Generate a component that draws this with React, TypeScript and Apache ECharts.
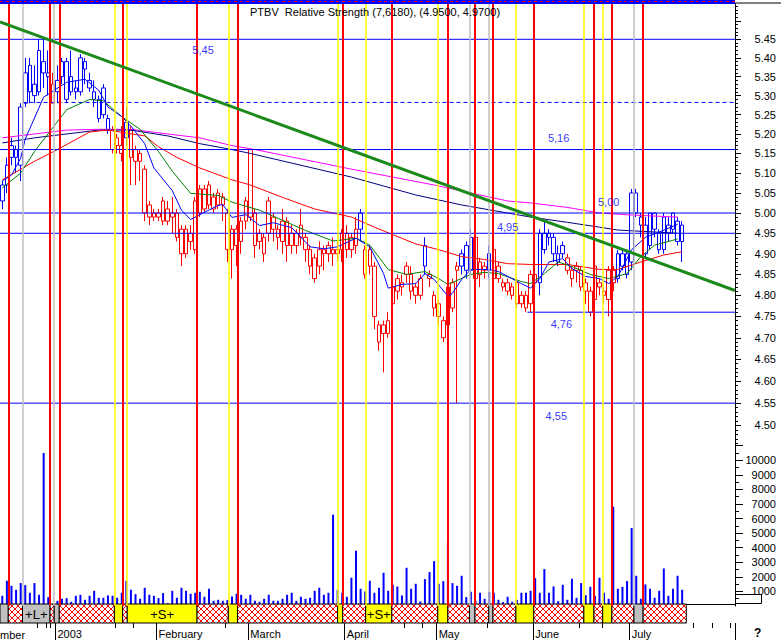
import React, { useEffect, useRef } from "react";
import * as echarts from "echarts";

// ---------- DATA ----------
const N_SLOTS = 160;
const categories: string[] = Array.from({ length: N_SLOTS }, (_, i) => `t${i}`);

const openP = [
  5.03, 5.07, 5.17, 5.16, 5.12, 5.28, 5.38, 5.33, 5.31, 5.36,
  5.36, 5.33, 5.31, 5.35, 5.39, 5.31, 5.32, 5.31, 5.37, 5.34,
  5.29, 5.29, 5.32, 5.24, 5.21, 5.17, 5.17, 5.19, 5.21, 5.13,
  5.15, 5.11, 5.02, 4.99, 5.0, 4.98, 4.98, 4.99, 5.0, 4.96,
  4.9, 4.93, 4.91, 5.0, 5.06, 5.02, 5.04, 5.02, 5.04, 5.0,
  4.96, 4.92, 4.93, 4.98, 5.16, 5.0, 4.93, 4.9, 4.95, 4.99,
  4.96, 4.93, 4.98, 4.95, 4.92, 4.97, 4.94, 4.91, 4.89, 4.87,
  4.91, 4.92, 4.91, 4.9, 4.91, 4.95, 4.94, 4.92, 4.96, 4.91,
  4.91, 4.87, 4.73, 4.73, 4.71, 4.78, 4.81, 4.82, 4.87, 4.85,
  4.82, 4.8, 4.87, 4.85, 4.8, 4.78, 4.74, 4.73, 4.83, 4.87,
  4.87, 4.86, 4.86, 4.94, 4.85, 4.87, 4.86, 4.91, 4.87, 4.83,
  4.83, 4.82, 4.83, 4.8, 4.8, 4.85, 4.85, 4.83, 4.91, 4.95,
  4.94, 4.9, 4.9, 4.89, 4.84, 4.87, 4.86, 4.83, 4.81, 4.79,
  4.83, 4.81, 4.79, 4.83, 4.84, 4.87, 4.9, 4.88, 5.05, 4.97,
  4.97, 4.92, 4.96, 4.95, 4.91, 4.95, 4.96, 4.98, 4.93,
];
const closeP = [
  5.07, 5.12, 5.14, 5.14, 5.27, 5.36, 5.31, 5.3, 5.42, 5.39,
  5.35, 5.28, 5.34, 5.39, 5.29, 5.35, 5.31, 5.4, 5.39, 5.32,
  5.31, 5.24, 5.25, 5.21, 5.16, 5.19, 5.15, 5.23, 5.14, 5.16,
  5.13, 5.0, 4.99, 5.0, 4.99, 5.03, 5.01, 5.0, 4.94, 4.9,
  4.96, 4.95, 5.03, 5.06, 5.01, 5.07, 5.01, 5.05, 5.02, 4.91,
  4.91, 4.96, 4.98, 5.03, 4.99, 4.92, 4.95, 4.94, 5.03, 4.96,
  4.94, 4.98, 4.92, 4.92, 4.95, 4.94, 4.91, 4.87, 4.84, 4.91,
  4.9, 4.9, 4.9, 4.91, 4.95, 4.91, 4.91, 4.96, 5.0, 4.85,
  4.87, 4.75, 4.69, 4.71, 4.74, 4.82, 4.84, 4.83, 4.85, 4.81,
  4.8, 4.84, 4.92, 4.84, 4.77, 4.75, 4.7, 4.82, 4.77, 4.86,
  4.9, 4.92, 4.94, 4.84, 4.88, 4.86, 4.9, 4.84, 4.84, 4.82,
  4.81, 4.8, 4.78, 4.78, 4.77, 4.78, 4.83, 4.95, 4.95, 4.94,
  4.9, 4.88, 4.92, 4.86, 4.86, 4.86, 4.82, 4.81, 4.76, 4.87,
  4.82, 4.8, 4.86, 4.86, 4.9, 4.9, 4.85, 5.05, 5.0, 4.99,
  4.9, 5.0, 5.0, 4.91, 4.99, 4.97, 5.0, 4.93, 4.97,
];
const lowP = [
  5.01, 5.05, 5.12, 5.1, 5.08, 5.27, 5.28, 5.28, 5.3, 5.32,
  5.3, 5.28, 5.28, 5.33, 5.28, 5.3, 5.29, 5.3, 5.33, 5.31,
  5.27, 5.23, 5.24, 5.2, 5.15, 5.15, 5.13, 5.17, 5.07, 5.07,
  5.08, 4.98, 4.97, 4.98, 4.98, 4.97, 4.97, 4.95, 4.93, 4.87,
  4.89, 4.91, 4.9, 4.99, 5.0, 5.01, 5.0, 5.01, 4.98, 4.88,
  4.84, 4.87, 4.9, 4.96, 4.98, 4.89, 4.91, 4.88, 4.93, 4.93,
  4.91, 4.9, 4.88, 4.9, 4.9, 4.92, 4.88, 4.85, 4.83, 4.85,
  4.86, 4.88, 4.87, 4.88, 4.88, 4.89, 4.89, 4.9, 4.93, 4.84,
  4.85, 4.72, 4.67, 4.62, 4.7, 4.74, 4.79, 4.8, 4.83, 4.79,
  4.78, 4.79, 4.85, 4.82, 4.75, 4.73, 4.69, 4.71, 4.76, 4.55,
  4.85, 4.84, 4.85, 4.81, 4.82, 4.84, 4.84, 4.82, 4.83, 4.81,
  4.8, 4.79, 4.77, 4.77, 4.76, 4.76, 4.82, 4.8, 4.9, 4.92,
  4.88, 4.87, 4.89, 4.85, 4.82, 4.83, 4.81, 4.78, 4.75, 4.77,
  4.8, 4.78, 4.75, 4.81, 4.83, 4.86, 4.84, 4.86, 4.99, 4.94,
  4.89, 4.91, 4.94, 4.9, 4.9, 4.93, 4.95, 4.92, 4.88,
];
const highP = [
  5.08, 5.14, 5.19, 5.17, 5.28, 5.4, 5.4, 5.38, 5.45, 5.45,
  5.42, 5.36, 5.38, 5.4, 5.4, 5.42, 5.34, 5.41, 5.4, 5.36,
  5.34, 5.3, 5.33, 5.25, 5.22, 5.2, 5.22, 5.27, 5.22, 5.17,
  5.16, 5.12, 5.03, 5.01, 5.01, 5.04, 5.03, 5.04, 5.01, 4.97,
  4.97, 4.97, 5.04, 5.07, 5.07, 5.08, 5.05, 5.06, 5.05, 5.01,
  4.97, 4.97, 4.99, 5.04, 5.16, 5.01, 4.96, 4.95, 5.04, 5.0,
  4.97, 5.01, 4.99, 4.97, 4.96, 5.01, 4.95, 4.92, 4.9, 4.93,
  4.92, 4.93, 4.94, 4.93, 4.96, 4.97, 4.95, 4.99, 5.01, 4.92,
  4.92, 4.88, 4.74, 4.74, 4.76, 4.83, 4.85, 4.85, 4.88, 4.87,
  4.83, 4.85, 4.94, 4.86, 4.81, 4.79, 4.75, 4.83, 4.84, 4.88,
  4.91, 4.93, 4.96, 4.95, 4.89, 4.88, 4.92, 4.92, 4.88, 4.84,
  4.84, 4.83, 4.84, 4.81, 4.81, 4.86, 4.86, 4.96, 4.98, 4.96,
  4.95, 4.92, 4.93, 4.9, 4.87, 4.88, 4.87, 4.84, 4.82, 4.88,
  4.84, 4.82, 4.87, 4.87, 4.91, 4.91, 4.91, 5.06, 5.06, 5.0,
  4.99, 5.0, 5.0, 4.96, 5.0, 4.99, 5.0, 4.99, 4.98,
];
// trend colouring of candles (B = blue phase, R = red phase), run-length
const trendRuns: [string, number][] = [
  ["B", 11], ["R", 1], ["B", 12], ["R", 3], ["B", 1], ["R", 50], ["B", 1], ["R", 13],
  ["B", 1], ["R", 7], ["B", 3], ["R", 3], ["B", 1], ["R", 10], ["B", 6], ["R", 11], ["B", 15],
];
const volumes = [
  701, 1731, 1388, 1113, 1571, 1434, 907, 1571, 769, 10504,
  609, 150, 357, 495, 540, 289, 701, 769, 426, 701,
  1044, 563, 563, 724, 701, 563, 907, 1731, 1113, 815,
  495, 1250, 769, 701, 540, 884, 197, 1044, 563, 1250,
  1044, 838, 907, 976, 632, 1182, 357, 426, 357, 403,
  655, 838, 769, 495, 769, 357, 289, 495, 769, 357,
  357, 495, 769, 907, 357, 632, 495, 563, 1044, 1250,
  769, 907, 6265, 1113, 907, 632, 1937, 3792, 1182, 998,
  1731, 907, 1250, 2281, 1044, 1456,
  1342, 724, 2624, 1182, 1525, 311, 1846, 2327, 3082, 1525,
  1708, 4365, 1571, 1388, 2075, 609, 976, 357, 907, 495,
  976, 907, 426, 266, 632, 289, 426, 907, 907, 1044,
  1915, 907, 2533, 907, 1342, 335, 1456, 426, 1869, 563,
  1571, 747, 1319, 701, 1937, 907, 495, 6815, 1182, 1319,
  1708, 5350, 2075, 495, 1479, 1182, 563, 1044, 2578, 701,
  1182, 2075, 1113,
];

// moving averages: [slot, price]
const maFast: [number, number][] = [
  [0, 5.08], [2, 5.095], [4, 5.138], [5, 5.187], [9, 5.296], [14, 5.335], [18, 5.343], [21, 5.314],
  [23, 5.27], [26, 5.245], [28, 5.22], [31, 5.175], [33, 5.113], [37, 5.056], [39, 5.007], [41, 4.984],
  [43, 4.996], [47, 5.019], [48, 5.021], [50, 4.989], [53, 4.996], [56, 4.969], [59, 4.976], [63, 4.964],
  [67, 4.917], [70, 4.912], [73, 4.917], [77, 4.938], [80, 4.917], [83, 4.852], [84, 4.817], [87, 4.826],
  [90, 4.828], [92, 4.852], [94, 4.838], [97, 4.798], [98, 4.805], [100, 4.838], [102, 4.862], [106, 4.862],
  [108, 4.857], [113, 4.828], [115, 4.817], [117, 4.84], [119, 4.88], [122, 4.888], [124, 4.864], [127, 4.845],
  [130, 4.84], [132, 4.828], [134, 4.845], [137, 4.91], [140, 4.94], [143, 4.953], [147, 4.972],
];
const maGreen: [number, number][] = [
  [0, 5.063], [4, 5.1], [7, 5.155], [14, 5.263], [19, 5.29], [22, 5.286], [26, 5.245], [30, 5.212],
  [34, 5.155], [37, 5.105], [41, 5.049], [47, 5.044], [50, 5.027], [56, 5.007], [61, 4.982], [66, 4.957],
  [72, 4.931], [77, 4.938], [80, 4.921], [84, 4.862], [88, 4.85], [92, 4.857], [95, 4.84], [97, 4.826],
  [102, 4.85], [105, 4.855], [108, 4.852], [113, 4.833], [115, 4.828], [118, 4.852], [121, 4.88], [124, 4.869],
  [128, 4.85], [132, 4.84], [136, 4.852], [139, 4.893], [142, 4.921], [147, 4.936],
];
const maRed: [number, number][] = [
  [0, 5.083], [7, 5.13], [12, 5.16], [19, 5.205], [23, 5.21], [31, 5.195], [34, 5.167], [38, 5.14],
  [43, 5.113], [50, 5.083], [54, 5.07], [61, 5.039], [68, 5.01], [76, 4.99], [81, 4.965], [90, 4.924],
  [95, 4.91], [100, 4.893], [105, 4.886], [110, 4.876], [115, 4.874], [123, 4.874], [130, 4.862], [134, 4.862],
  [139, 4.88], [144, 4.897], [148, 4.905],
];
const maNavy: [number, number][] = [
  [0, 5.177], [7, 5.19], [21, 5.21], [28, 5.21], [36, 5.195], [43, 5.175], [50, 5.16], [54, 5.15],
  [76, 5.09], [90, 5.045], [100, 5.02], [110, 5.0], [115, 4.99], [123, 4.977], [130, 4.965], [134, 4.958],
  [147, 4.95],
];
const maMagenta: [number, number][] = [
  [0, 5.19], [7, 5.2], [14, 5.21], [21, 5.212], [28, 5.212], [36, 5.2], [43, 5.19], [50, 5.17],
  [55, 5.16], [76, 5.11], [94, 5.07], [100, 5.055], [110, 5.03], [115, 5.025], [123, 5.014], [130, 5.0],
  [137, 4.995], [147, 4.99],
];

// signal lines (slot positions)
const redSignals = [1.3, 10.4, 12.4, 26.2, 42.4, 51.2, 74.1, 84.8, 97.0, 102.9, 106.8, 115.7, 128.8, 132.7, 139.5];
const yellowSignals = [24.4, 27.2, 49.2, 73.0, 79.1, 94.8, 111.8, 126.6, 130.7];
const graySignals = [4.4, 11.3, 101.7, 105.9, 137.5];
const stripEnd = 148.9;
const stripLabels = [
  { from: 4.4, text: "+L+" },
  { from: 27.2, text: "+S+" },
  { from: 79.1, text: "+S+" },
];

// price levels (start slot, price)
const levelLines: [number, number][] = [
  [-0.5, 5.45], [-0.5, 5.16], [-0.5, 5.0], [-0.5, 4.95], [-0.5, 4.55], [114.3, 4.76],
];
const dashedLevel = { from: 4.4, price: 5.282 };
const trendLine: [number, number][] = [[-0.5, 5.497], [159.5, 4.8115]];
const levelLabels = [
  { text: "5,45", k: 43.7, price: 5.421 },
  { text: "5,16", k: 121.1, price: 5.1896 },
  { text: "5,00", k: 132.0, price: 5.0275 },
  { text: "4,95", k: 110.0, price: 4.9655 },
  { text: "4,76", k: 121.7, price: 4.7322 },
  { text: "4,55", k: 120.6, price: 4.5212 },
];

// axes
const PRICE_MIN = 4.4565;
const PRICE_MAX = 5.5463;
const priceLabels = [4.5, 4.55, 4.6, 4.65, 4.7, 4.75, 4.8, 4.85, 4.9, 4.95, 5.0, 5.05, 5.1, 5.15, 5.2, 5.25, 5.3, 5.35, 5.4, 5.45];
const priceMajorTicks = [4.45, ...priceLabels, 5.5];
const priceMinorTicks = Array.from({ length: 110 }, (_, i) => Math.round((4.45 + i * 0.01) * 100) / 100);
const volLabels = [1000, 2000, 3000, 4000, 5000, 6000, 7000, 8000, 9000, 10000];
const volMajorTicks = [...volLabels, 11000];
const volMinorTicks = Array.from({ length: 22 }, (_, i) => 500 + i * 500);
const monthStarts = [12, 34, 54, 75, 95, 116, 137];
const monthNames = ["2003", "February", "March", "April", "May", "June", "July"];
const weekTicks = [8, 10, 11, 25, 29, 49, 88, 92, 106, 126, 131, 151, 155, 159];
const titleText = "PTBV  Relative Strength (7,6180), (4.9500, 4.9700)";

// ---------- STYLE ----------
const FONT = "'Liberation Sans', Arial, sans-serif";
const BLUE = "#0000ff";
const RED = "#ff0000";
const YEL = "#ffff00";
const GRAY = "#c0c0c0";
const NAVY = "#000080";
const MAG = "#ff00ff";
const GREEN = "#008000";
const TREND = "#1b8a1b";

const hatchUrl =
  "data:image/svg+xml;utf8," +
  encodeURIComponent(
    '<svg xmlns="http://www.w3.org/2000/svg" width="6" height="6"><rect width="6" height="6" fill="#ffffff"/><path d="M0 0L6 6M6 0L0 6" stroke="#ff0000" stroke-width="1"/></svg>'
  );

function buildOption(): any {
  const trendSeq: string[] = trendRuns.flatMap(([c, n]) => Array(n).fill(c));
  const candleData = openP.map((o, i) => {
    const col = trendSeq[i] === "B" ? BLUE : RED;
    return {
      value: [o, closeP[i], lowP[i], highP[i]],
      itemStyle: { color: "#ffffff", color0: col, borderColor: col, borderColor0: col, borderWidth: 1 },
    };
  });

  const vLines = [
    ...yellowSignals.map((x) => ({ xAxis: x, lineStyle: { color: YEL, width: 1.5, type: "solid" } })),
    ...graySignals.map((x) => ({ xAxis: x, lineStyle: { color: GRAY, width: 1.5, type: "solid" } })),
    ...redSignals.map((x) => ({ xAxis: x, lineStyle: { color: RED, width: 2, type: "solid" } })),
  ];

  const marks = [
    ...redSignals.map((x) => ({ x, kind: 0 })),
    ...yellowSignals.map((x) => ({ x, kind: 1 })),
    ...graySignals.map((x) => ({ x, kind: 2 })),
  ].sort((a, b) => a.x - b.x);
  const segs: number[][] = [];
  let prev = { x: -0.5, kind: 2 };
  for (const m of marks) {
    segs.push([prev.x, m.x, prev.kind]);
    prev = m;
  }
  segs.push([prev.x, stripEnd, prev.kind]);

  const hatch = { image: hatchUrl, repeat: "repeat", imageWidth: 6, imageHeight: 6 };

  const lineSeries = (data: [number, number][], color: string, width: number, z: number, type: any = "solid") => ({
    type: "line",
    xAxisIndex: 1,
    yAxisIndex: 0,
    data,
    showSymbol: false,
    symbol: "none",
    itemStyle: { color },
    lineStyle: { color, width, type },
    z,
    silent: true,
  });

  const hiddenValueX = (gridIndex: number) => ({
    gridIndex,
    type: "value",
    min: -0.5,
    max: N_SLOTS - 0.5,
    show: false,
    axisLine: { onZero: false },
    splitLine: { show: false },
  });

  return {
    animation: false,
    backgroundColor: "#ffffff",
    textStyle: { fontFamily: FONT },
    grid: [
      { left: 0, top: 4, width: 735, height: 441 },
      { left: 0, top: 445, width: 735, height: 161 },
      { left: 0, top: 604, width: 735, height: 19 },
    ],
    xAxis: [
      { gridIndex: 0, type: "category", data: categories, boundaryGap: true, show: false, axisLine: { onZero: false } },
      hiddenValueX(0),
      { gridIndex: 1, type: "category", data: categories, boundaryGap: true, show: false, axisLine: { onZero: false } },
      hiddenValueX(1),
      hiddenValueX(2),
      {
        gridIndex: 2,
        type: "category",
        data: categories,
        boundaryGap: true,
        position: "bottom",
        axisLine: { show: false, onZero: false },
        axisTick: {
          show: true,
          interval: (i: number) => monthStarts.includes(i),
          length: 17,
          lineStyle: { color: "#000", width: 1 },
        },
        axisLabel: {
          show: true,
          interval: (i: number) => monthStarts.includes(i),
          formatter: (_v: string, i: number) => {
            const m = monthStarts.indexOf(i);
            return m >= 0 ? monthNames[m] : "";
          },
          align: "left",
          margin: 5,
          fontSize: 11,
          color: "#000",
          fontFamily: FONT,
        },
        splitLine: { show: false },
      },
      {
        gridIndex: 2,
        type: "category",
        data: categories,
        boundaryGap: true,
        position: "bottom",
        axisLine: { show: false, onZero: false },
        axisTick: { show: true, interval: (i: number) => weekTicks.includes(i), length: 5, lineStyle: { color: "#000" } },
        axisLabel: { show: false },
        splitLine: { show: false },
      },
      {
        gridIndex: 2,
        type: "category",
        data: categories,
        position: "top",
        axisLine: { show: true, onZero: false, lineStyle: { color: "#000", width: 1 } },
        axisTick: { show: false },
        axisLabel: { show: false },
        splitLine: { show: false },
      },
    ],
    yAxis: [
      {
        gridIndex: 0,
        type: "log",
        logBase: 10,
        min: PRICE_MIN,
        max: PRICE_MAX,
        position: "right",
        axisLine: { show: true, onZero: false, lineStyle: { color: "#000", width: 1 } },
        axisTick: { show: true, customValues: priceMajorTicks, length: 6, lineStyle: { color: "#000" } },
        axisLabel: {
          show: true,
          customValues: priceLabels,
          formatter: (v: number) => Number(v).toFixed(2),
          align: "right",
          margin: 41,
          fontSize: 11,
          color: "#000",
          fontFamily: FONT,
        },
        splitLine: { show: false },
      },
      {
        gridIndex: 0,
        type: "log",
        logBase: 10,
        min: PRICE_MIN,
        max: PRICE_MAX,
        position: "right",
        axisLine: { show: false, onZero: false },
        axisTick: { show: true, customValues: priceMinorTicks, length: 3, lineStyle: { color: "#000" } },
        axisLabel: { show: false },
        splitLine: { show: false },
      },
      {
        gridIndex: 1,
        type: "value",
        min: 0,
        max: 11050,
        position: "right",
        axisLine: { show: true, onZero: false, lineStyle: { color: "#000", width: 1 } },
        axisTick: { show: true, customValues: volMajorTicks, length: 8, lineStyle: { color: "#000" } },
        axisLabel: {
          show: true,
          customValues: volLabels,
          formatter: (v: number) => String(Math.round(Number(v))),
          align: "right",
          margin: 41,
          fontSize: 11,
          color: "#000",
          fontFamily: FONT,
        },
        splitLine: { show: false },
      },
      {
        gridIndex: 1,
        type: "value",
        min: 0,
        max: 11050,
        position: "right",
        axisLine: { show: false, onZero: false },
        axisTick: { show: true, customValues: volMinorTicks, length: 4, lineStyle: { color: "#000" } },
        axisLabel: { show: false },
        splitLine: { show: false },
      },
      { gridIndex: 2, type: "value", min: 0, max: 1, show: false, position: "left", splitLine: { show: false } },
    ],
    series: [
      {
        type: "line",
        xAxisIndex: 1,
        yAxisIndex: 0,
        data: [[0, 5]],
        showSymbol: false,
        symbol: "none",
        lineStyle: { opacity: 0 },
        z: 1,
        silent: true,
        markLine: { silent: true, symbol: ["none", "none"], label: { show: false }, data: vLines },
      },
      {
        type: "candlestick",
        xAxisIndex: 0,
        yAxisIndex: 0,
        data: candleData,
        barWidth: 4,
        z: 2,
        silent: true,
      },
      lineSeries(maMagenta, MAG, 1, 3),
      lineSeries(maNavy, NAVY, 1, 3),
      lineSeries(maRed, RED, 1, 3),
      lineSeries(maGreen, GREEN, 1, 3),
      lineSeries(maFast, BLUE, 1, 3),
      ...levelLines.map(([from, p]) =>
        lineSeries([[from, p], [N_SLOTS - 0.5, p]], BLUE, 1, 4)
      ),
      lineSeries([[dashedLevel.from, dashedLevel.price], [N_SLOTS - 0.5, dashedLevel.price]], BLUE, 1, 4, [4, 3]),
      lineSeries(trendLine, TREND, 3, 5),
      {
        type: "scatter",
        xAxisIndex: 1,
        yAxisIndex: 0,
        data: levelLabels.map((l) => ({ value: [l.k, l.price], label: { formatter: l.text } })),
        symbolSize: 1,
        itemStyle: { color: "rgba(0,0,0,0)" },
        label: { show: true, position: "inside", color: BLUE, fontSize: 11, fontFamily: FONT },
        z: 6,
        silent: true,
      },
      {
        type: "line",
        xAxisIndex: 3,
        yAxisIndex: 2,
        data: [[0, 0]],
        showSymbol: false,
        symbol: "none",
        lineStyle: { opacity: 0 },
        z: 1,
        silent: true,
        markLine: { silent: true, symbol: ["none", "none"], label: { show: false }, data: vLines },
      },
      {
        type: "bar",
        xAxisIndex: 2,
        yAxisIndex: 2,
        data: volumes,
        barWidth: 2,
        itemStyle: { color: BLUE },
        z: 2,
        silent: true,
      },
      {
        type: "custom",
        xAxisIndex: 4,
        yAxisIndex: 4,
        data: segs,
        z: 3,
        silent: true,
        clip: false,
        renderItem: (_params: any, api: any) => {
          const s = api.value(0);
          const e = api.value(1);
          const kind = api.value(2);
          const a = api.coord([s, 1]);
          const b = api.coord([e, 0]);
          const fill = kind === 0 ? hatch : kind === 1 ? YEL : GRAY;
          const children: any[] = [
            {
              type: "rect",
              shape: { x: a[0], y: a[1], width: b[0] - a[0], height: b[1] - a[1] },
              style: { fill, stroke: "#000", lineWidth: 1 },
            },
          ];
          const lab = stripLabels.find((l) => Math.abs(l.from - s) < 1e-6);
          if (lab) {
            children.push({
              type: "text",
              style: {
                text: lab.text,
                x: (a[0] + b[0]) / 2,
                y: (a[1] + b[1]) / 2 + 1,
                align: "center",
                verticalAlign: "middle",
                fill: "#000",
                font: `13px ${FONT}`,
              },
            });
          }
          return { type: "group", children };
        },
      },
    ],
    graphic: [
      { type: "rect", shape: { x: 0, y: 0, width: 735, height: 4 }, style: { fill: BLUE }, z: 10 },
      {
        type: "line",
        shape: { x1: 0, y1: 1.5, x2: 735, y2: 1.5 },
        style: { stroke: RED, lineWidth: 1, lineDash: [3, 3] },
        z: 11,
      },
      { type: "line", shape: { x1: 735, y1: 3, x2: 781, y2: 3 }, style: { stroke: "#000", lineWidth: 1 }, z: 10 },
      {
        type: "text",
        x: 250,
        y: 6,
        style: { text: titleText, font: `11px ${FONT}`, fill: "#000" },
        z: 10,
      },
      {
        type: "text",
        x: 0,
        y: 629,
        style: { text: "mber", font: `11px ${FONT}`, fill: "#000" },
        z: 10,
      },
      {
        type: "text",
        x: 754,
        y: 627,
        style: { text: "?", font: `bold 12px ${FONT}`, fill: "#000" },
        z: 10,
      },
      {
        type: "rect",
        shape: { x: 735.5, y: 594.5, width: 26, height: 9 },
        style: { fill: "none", stroke: "#000", lineWidth: 1 },
        z: 10,
      },
    ],
  };
}

export default function App() {
  const ref = useRef<HTMLDivElement>(null);
  useEffect(() => {
    document.body.style.margin = "0";
    if (!ref.current) return;
    const chart = echarts.init(ref.current, null, { renderer: "svg" });
    chart.setOption(buildOption());
    return () => chart.dispose();
  }, []);
  return (
    <div
      ref={ref}
      style={{ width: 781, height: 640, position: "absolute", left: 0, top: 0, background: "#fff" }}
    />
  );
}
